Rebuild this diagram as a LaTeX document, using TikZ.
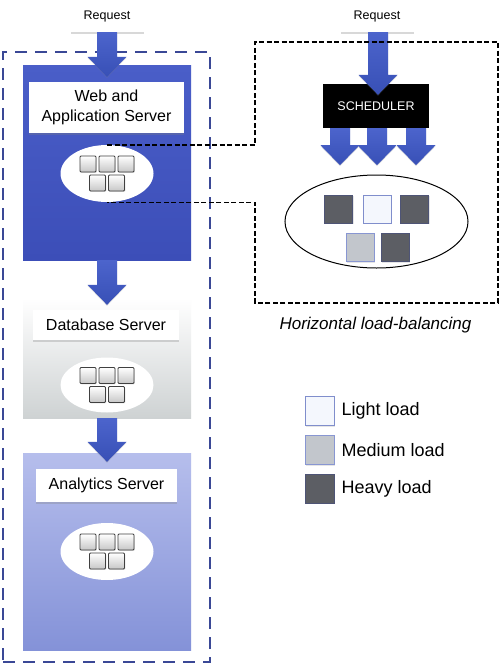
\documentclass[tikz,border=0pt]{standalone}
\usepackage{fontspec}
\setmainfont{Liberation Sans}
\usetikzlibrary{shapes.geometric,shadows,calc}

\definecolor{webtop}{RGB}{74,94,200}
\definecolor{webbot}{RGB}{60,78,184}
\definecolor{arrtop}{RGB}{76,100,204}
\definecolor{arrbot}{RGB}{56,80,182}
\definecolor{dbbot}{RGB}{206,210,211}
\definecolor{antop}{RGB}{182,190,236}
\definecolor{anbot}{RGB}{132,146,216}
\definecolor{outerdash}{RGB}{58,72,150}
\definecolor{heavy}{RGB}{92,94,100}
\definecolor{heavyb}{RGB}{78,84,118}
\definecolor{lightc}{RGB}{244,247,253}
\definecolor{lightb}{RGB}{128,142,204}
\definecolor{medium}{RGB}{194,198,204}
\definecolor{mediumb}{RGB}{136,150,210}

\tikzset{
  sh/.style={drop shadow={shadow xshift=0pt,shadow yshift=-1.5pt,opacity=0.3}},
  reqbox/.style={rectangle,fill=white,minimum width=73pt,minimum height=32pt,
    inner sep=0pt,font=\fontsize{12.5}{14}\selectfont,sh},
  serverbox/.style={rectangle,minimum width=168pt,inner sep=0pt},
  labelbox/.style={rectangle,fill=white,inner sep=0pt,align=center,
    font=\fontsize{16}{20}\selectfont,sh},
  taskell/.style={ellipse,fill=white,minimum width=93pt,minimum height=57pt,inner sep=0pt},
  task/.style={top color=white,bottom color=black!22,draw=black!75,line width=0.9pt,
    rounded corners=1pt,drop shadow={shadow xshift=0.8pt,shadow yshift=-0.8pt,opacity=0.25}},
  tasks/.pic={
    \foreach \dx/\dy in {-19/-9.5,0/-9.5,19/-9.5,-9.5/9.5,9.5/9.5}
      \path[task] (\dx-8,\dy-8) rectangle (\dx+8,\dy+8);
  },
  blockarrow/.style={to path={let \p1=(\tikztostart), \p2=(\tikztotarget) in
    (\x1-10pt,\y1) -- (\x1-10pt,\y2+20pt) -- (\x1-19.5pt,\y2+20pt) -- (\x1,\y2)
    -- (\x1+19.5pt,\y2+20pt) -- (\x1+10pt,\y2+20pt) -- (\x1+10pt,\y1) -- cycle}},
  arrowfill/.style={top color=arrtop,bottom color=arrbot,
    drop shadow={shadow xshift=0pt,shadow yshift=-1pt,opacity=0.25}},
  outerbox/.style={rectangle,draw=outerdash,line width=2.8pt,dash pattern=on 12pt off 8pt,
    minimum width=207pt,minimum height=610pt,inner sep=0pt},
  calldash/.style={draw=black,line width=1.4pt,dash pattern=on 5pt off 2.5pt},
  loadsq/.style={rectangle,minimum size=28pt,inner sep=0pt,line width=1pt,
    drop shadow={shadow xshift=1pt,shadow yshift=-1pt,opacity=0.2}},
  heavysq/.style={loadsq,fill=heavy,draw=heavyb},
  lightsq/.style={loadsq,fill=lightc,draw=lightb},
  mediumsq/.style={loadsq,fill=medium,draw=mediumb},
  legtext/.style={anchor=west,inner sep=0pt,font=\fontsize{18}{20}\selectfont},
}

\begin{document}
\begin{tikzpicture}[x=1pt,y=-1pt]
\useasboundingbox (0,0) rectangle (502,665);
\fill[white] (0,0) rectangle (502,665);

% ---------- left column ----------
\node[outerbox] (outer) at (106.5,357) {};

\node[serverbox,minimum height=195pt,top color=webtop,bottom color=webbot] (web) at (107,162.5) {};
\node[serverbox,minimum height=120pt,top color=white,bottom color=dbbot,
  drop shadow={shadow xshift=0pt,shadow yshift=-1pt,opacity=0.15}] (db) at (107,358) {};
\node[serverbox,minimum height=197pt,top color=antop,bottom color=anbot] (an) at (107,551.5) {};

\node[labelbox,minimum width=155pt,minimum height=51pt] (weblabel) at (106.5,107.5) {Web and\\Application Server};
\node[labelbox,minimum width=146pt,minimum height=30pt] (dblabel) at (106,325) {Database Server};
\node[labelbox,minimum width=141pt,minimum height=33pt] (anlabel) at (106.5,485.5) {Analytics Server};

\node[taskell] (webell) at (107,173.5) {};
\node[taskell,minimum height=55pt] (dbell) at (107,385) {};
\node[taskell] (anell) at (107,551.5) {};
\pic at (webell.center) {tasks};
\pic at (dbell.center) {tasks};
\pic at (anell.center) {tasks};

\node[reqbox] (req1) at (107,16) {Request};

\coordinate (tip1) at ([yshift=-12pt]web.north);
\coordinate (tip2) at ([yshift=-7pt]db.north);
\coordinate (tip3) at ([yshift=-9pt]an.north);
\path[arrowfill] (req1.south) to[blockarrow] (tip1);
\path[arrowfill] (web.south) to[blockarrow] (tip2);
\path[arrowfill] (db.south) to[blockarrow] (tip3);

% ---------- right part ----------
\node[reqbox] (req2) at (377,16) {Request};
\node[rectangle,fill=black,text=white,minimum width=106pt,minimum height=44pt,inner sep=0pt,
  font=\fontsize{12.5}{14}\selectfont] (sched) at (376,106) {SCHEDULER};
\coordinate (tip4) at ([xshift=1pt,yshift=-11pt]sched.north);
\path[arrowfill] ([xshift=1pt]req2.south) to[blockarrow] (tip4);

\coordinate (sa) at ([xshift=-36pt]sched.south);
\coordinate (sb) at ([xshift=1pt]sched.south);
\coordinate (sc) at ([xshift=40pt]sched.south);
\coordinate (ta) at ([yshift=-37pt]sa);
\coordinate (tb) at ([yshift=-37pt]sb);
\coordinate (tc) at ([yshift=-37pt]sc);
\path[arrowfill] (sa) to[blockarrow] (ta);
\path[arrowfill] (sb) to[blockarrow] (tb);
\path[arrowfill] (sc) to[blockarrow] (tc);

\node[ellipse,draw=black,line width=1pt,fill=white,minimum width=183pt,minimum height=93pt,inner sep=0pt] (bigell) at (376.5,221.5) {};
\node[heavysq]  (s1) at (338.5,209) {};
\node[lightsq]  (s2) at (377,209) {};
\node[heavysq]  (s3) at (414.5,209) {};
\node[mediumsq] (s4) at (360,247.5) {};
\node[heavysq]  (s5) at (395,247.5) {};

% callout dashed outline
\coordinate (zTR) at (498,42);
\coordinate (zBL) at (255,303);
\draw[calldash] (webell.north) -- (webell.north -| zBL) |- (zTR) |- (zBL)
  -- (zBL |- webell.south) -- (webell.south);

\node[font=\itshape\fontsize{17}{20}\selectfont,inner sep=0pt] (caption) at (375.5,325) {Horizontal load-balancing};

% ---------- legend ----------
\node[lightsq,minimum size=29pt]  (l1) at (319.5,411) {};
\node[mediumsq,minimum size=29pt] (l2) at (319.5,450) {};
\node[heavysq,minimum size=29pt]  (l3) at (319.5,488.5) {};
\node[legtext] (t1) at ([xshift=22pt]l1.center) {Light load};
\node[legtext] (t2) at ([xshift=22pt]l2.center) {Medium load};
\node[legtext] (t3) at ([xshift=22pt]l3.center) {Heavy load};
\end{tikzpicture}
\end{document}
